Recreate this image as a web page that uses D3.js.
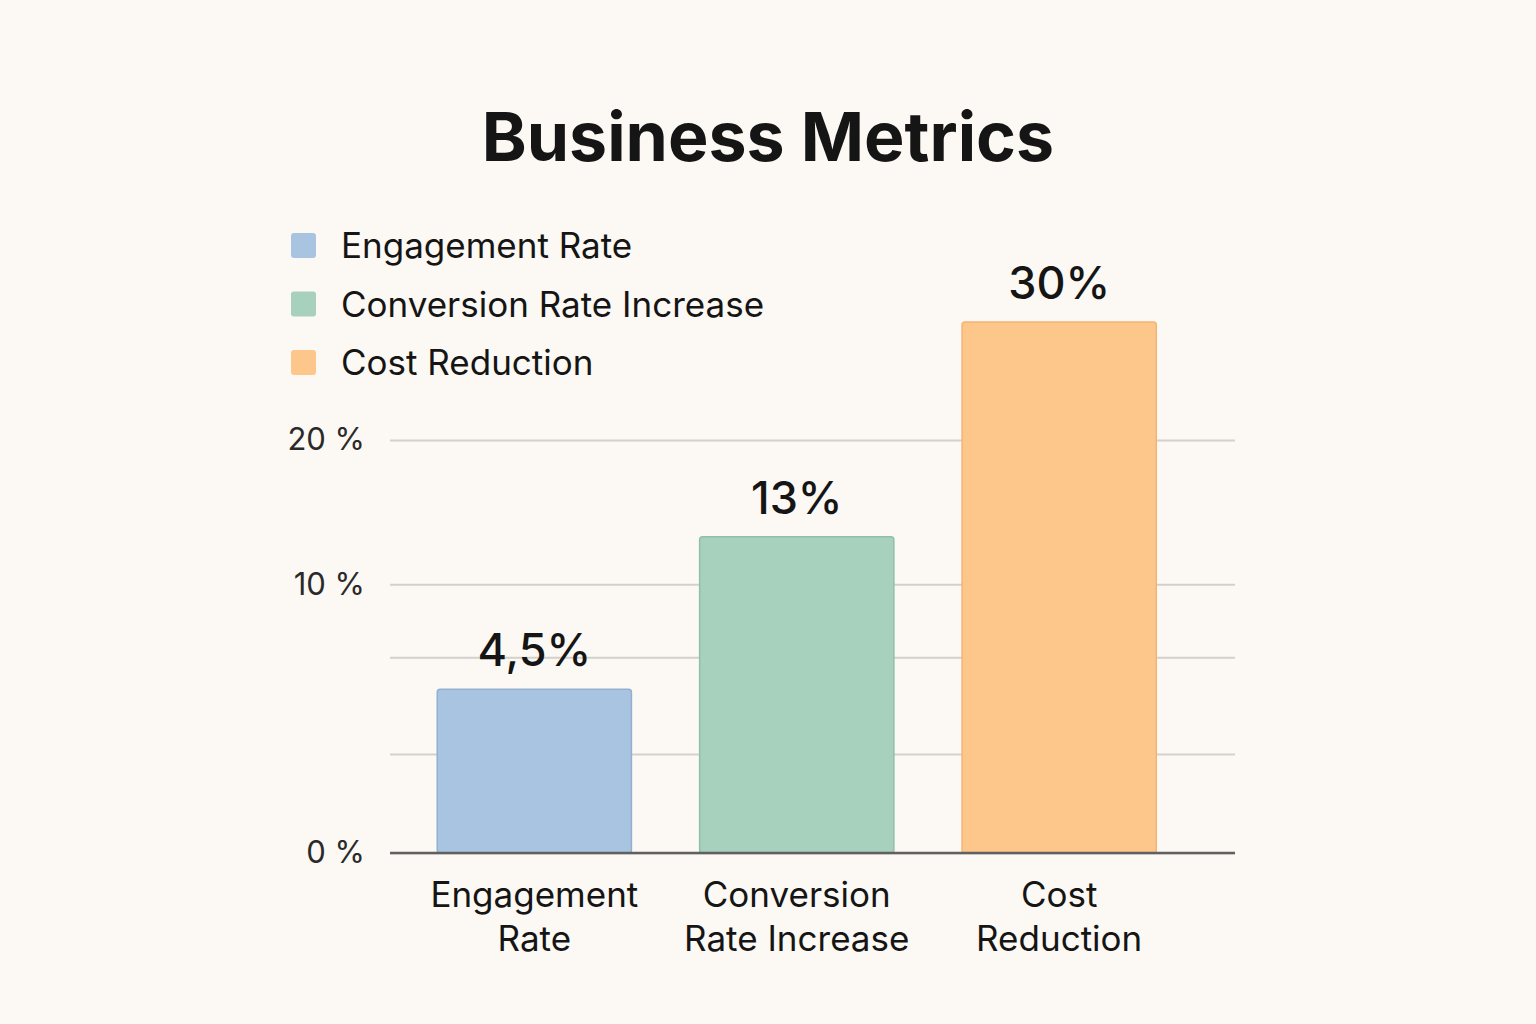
<!DOCTYPE html>
<html>
<head>
<meta charset="utf-8">
<script src="https://d3js.org/d3.v7.min.js"></script>
<style>
  body { margin: 0; background: #fcf8f3; }
  svg { display: block; font-family: Inter, "Noto Sans", sans-serif; }
</style>
</head>
<body>
<svg width="1536" height="1024"></svg>
<script>
// chart data
var categories = ["Engagement Rate", "Conversion Rate Increase", "Cost Reduction"];
var catLines = [["Engagement", "Rate"], ["Conversion", "Rate Increase"], ["Cost", "Reduction"]];
var values = [4.5, 13, 30];
var valueLabels = ["4,5%", "13%", "30%"];
var colors = ["#a9c4e1", "#a7d1bc", "#fdc68b"];
var strokes = ["#93b0d0", "#90bfa8", "#f3b474"];
var gridTicks = [0, 2, 6, 10, 20];
var tickLabels = { 0: "0 %", 10: "10 %", 20: "20 %" };

var svg = d3.select("svg"),
  plotLeft = 390, plotRight = 1235, plotBottom = 853, plotTop = 322;

svg.append("rect").attr("width", 1536).attr("height", 1024).attr("fill", "#fcf8f3");

// title
svg.append("text")
  .attr("x", 768).attr("y", 161)
  .attr("text-anchor", "middle")
  .attr("font-size", "68px")
  .attr("font-weight", "bold")
  .attr("fill", "#151515")
  .text("Business Metrics");

// scales
var x = d3.scaleBand()
  .domain(categories)
  .range([plotLeft, plotRight])
  .paddingInner(0.26)
  .paddingOuter(0.24)
  .align(0.375);

var y = d3.scalePow()
  .exponent(0.62)
  .domain([0, 30])
  .range([plotBottom, plotTop]);

// gridlines + tick labels
var yAxis = svg.append("g")
  .attr("transform", "translate(" + plotLeft + ",0)")
  .call(d3.axisLeft(y)
    .tickValues(gridTicks)
    .tickSize(-(plotRight - plotLeft))
    .tickPadding(25)
    .tickFormat(function (d) { return tickLabels[d] || ""; }));
yAxis.select(".domain").remove();
yAxis.selectAll(".tick line").attr("stroke", "#d3d1cd").attr("stroke-width", 2);
yAxis.selectAll(".tick text")
  .attr("font-size", "31px")
  .attr("fill", "#2a2a2a")
  .attr("font-family", "Inter, sans-serif");

// bars
svg.append("g").selectAll("rect")
  .data(values)
  .enter().append("rect")
  .attr("x", function (d, i) { return x(categories[i]); })
  .attr("y", function (d) { return y(d); })
  .attr("width", x.bandwidth())
  .attr("height", function (d) { return y(0) - y(d); })
  .attr("rx", 3)
  .attr("fill", function (d, i) { return colors[i]; })
  .attr("stroke", function (d, i) { return strokes[i]; })
  .attr("stroke-width", 1.5);

// baseline
svg.append("line")
  .attr("x1", plotLeft).attr("x2", plotRight)
  .attr("y1", y(0)).attr("y2", y(0))
  .attr("stroke", "#606060")
  .attr("stroke-width", 2.5);

// value labels
svg.append("g").selectAll("text")
  .data(values)
  .enter().append("text")
  .attr("x", function (d, i) { return x(categories[i]) + x.bandwidth() / 2; })
  .attr("y", function (d) { return y(d) - 23; })
  .attr("text-anchor", "middle")
  .attr("font-size", "45px")
  .attr("font-weight", 500)
  .attr("fill", "#151515")
  .text(function (d, i) { return valueLabels[i]; });

// category labels
var cat = svg.append("g").selectAll("text")
  .data(catLines)
  .enter().append("text")
  .attr("x", function (d, i) { return x(categories[i]) + x.bandwidth() / 2; })
  .attr("y", 907)
  .attr("text-anchor", "middle")
  .attr("font-size", "35px")
  .attr("fill", "#151515");
cat.selectAll("tspan")
  .data(function (d) { return d; })
  .enter().append("tspan")
  .attr("x", function () { return this.parentNode.getAttribute("x"); })
  .attr("dy", function (d, i) { return i ? 44 : 0; })
  .text(function (d) { return d; });

// legend
var legend = svg.append("g").selectAll("g")
  .data(categories)
  .enter().append("g")
  .attr("transform", function (d, i) { return "translate(291," + (233 + i * 58.5) + ")"; });

legend.append("rect")
  .attr("width", 25).attr("height", 25).attr("rx", 3)
  .attr("fill", function (d, i) { return colors[i]; });

legend.append("text")
  .attr("x", 50).attr("y", 13)
  .attr("dy", "0.35em")
  .attr("font-size", "35px")
  .attr("fill", "#151515")
  .text(function (d) { return d; });
</script>
</body>
</html>
